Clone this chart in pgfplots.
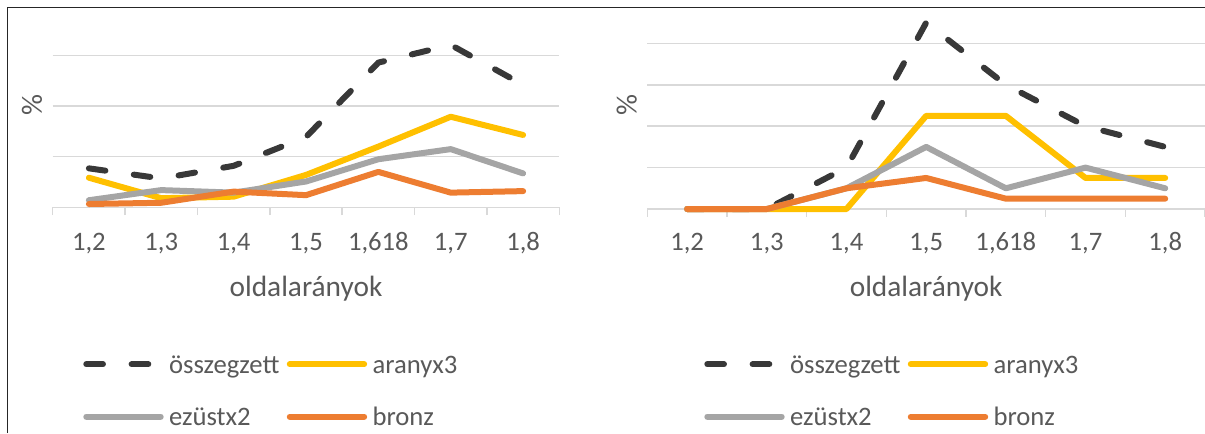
\documentclass[border=0pt]{standalone}
\usepackage{fontspec}
\setmainfont{Carlito}
\usepackage{pgfplots}
\pgfplotsset{compat=1.18}

\definecolor{oszc}{HTML}{383838}
\definecolor{aranyc}{HTML}{FFC000}
\definecolor{ezustc}{HTML}{A5A5A5}
\definecolor{bronzc}{HTML}{ED7D31}
\definecolor{gridc}{HTML}{D9D9D9}
\definecolor{txtc}{HTML}{595959}
\definecolor{framec}{HTML}{262626}

\pgfplotsset{
  panel/.style={
    scale only axis,
    anchor=south west,
    xmin=-0.5, xmax=6.5, ymin=0,
    clip=false,
    axis x line=bottom, axis y line=left,
    axis line style={-},
    x axis line style={draw=gridc, line width=1.1pt},
    y axis line style={draw=none},
    xtick={0,...,6},
    xticklabels={{1,2},{1,3},{1,4},{1,5},{1,618},{1,7},{1,8}},
    major tick length=0pt,
    minor xtick={-0.5,0.5,...,6.5},
    minor tick length=5.8pt,
    minor x tick style={draw=gridc, line width=1.1pt},
    tick align=outside,
    ytick style={draw=none},
    yticklabels={},
    ymajorgrids,
    grid style={draw=gridc, line width=1.1pt},
    xticklabel style={anchor=base, font=\fontsize{20}{24}\selectfont, text=txtc},
    xlabel={oldalarányok},
    ylabel={\%},
    label style={font=\fontsize{22}{26}\selectfont, text=txtc},
    xlabel style={anchor=base},
    ylabel style={anchor=center},
    legend columns=2,
    legend cell align=left,
    legend image code/.code={\draw[##1] (0pt,0pt) -- (55.8pt,0pt);},
    legend style={draw=none, fill=none, inner sep=0pt, outer sep=0pt,
      anchor=north west, font=\fontsize{20}{24}\selectfont, text=txtc,
      column sep=4pt,
      nodes={inner sep=0pt, text height=17pt, text depth=3.5pt},
      /tikz/every even column/.append style={column sep=5.5pt},
      row sep=18.8pt},
    every axis plot/.append style={line width=4.5pt, line cap=round, line join=round},
  },
  sumline/.style={oszc, dash pattern=on 12.5pt off 21.5pt},
}

\begin{document}
\begin{tikzpicture}[x=0.75pt, y=0.75pt]
\useasboundingbox (0,0) rectangle (1205,433);

% first panel
\begin{axis}[panel,
  at={(39.525pt,169.275pt)}, width=379.95pt, height=150pt,
  ymax=3.953, ytick={0,1,2,3},
  xticklabel style={yshift=-32.55pt},
  xlabel style={at={(axis description cs:0.5,-0.447)}},
  ylabel style={at={(axis description cs:-0.0407,0.509)}},
  legend style={at={(axis description cs:0.0604,-0.7165)}},
]
\addplot[sumline] coordinates {(0,0.77) (1,0.57) (2,0.82) (3,1.39) (4,2.86) (5,3.21) (6,2.42)};
\addlegendentry{összegzett}
\addplot[aranyc] coordinates {(0,0.585) (1,0.18) (2,0.21) (3,0.64) (4,1.20) (5,1.79) (6,1.43)};
\addlegendentry{aranyx3}
\addplot[ezustc] coordinates {(0,0.14) (1,0.34) (2,0.29) (3,0.51) (4,0.95) (5,1.15) (6,0.67)};
\addlegendentry{ezüstx2}
\addplot[bronzc] coordinates {(0,0.065) (1,0.09) (2,0.31) (3,0.24) (4,0.70) (5,0.29) (6,0.32)};
\addlegendentry{bronz}
\end{axis}

% second panel
\begin{axis}[panel,
  at={(485.475pt,168pt)}, width=418.3pt, height=151.3pt,
  ymax=19.49, ytick={0,4,8,12,16},
  xticklabel style={yshift=-31.3pt},
  xlabel style={at={(axis description cs:0.5,-0.4348)}},
  ylabel style={at={(axis description cs:-0.0369,0.513)}},
  legend style={at={(axis description cs:0.1022,-0.702)}},
]
\addplot[sumline] coordinates {(0,0) (1,0) (2,4) (3,18) (4,12) (5,8) (6,6)};
\addlegendentry{összegzett}
\addplot[aranyc] coordinates {(0,0) (1,0) (2,0) (3,9) (4,9) (5,3) (6,3)};
\addlegendentry{aranyx3}
\addplot[ezustc] coordinates {(0,0) (1,0) (2,2) (3,6) (4,2) (5,4) (6,2)};
\addlegendentry{ezüstx2}
\addplot[bronzc] coordinates {(0,0) (1,0) (2,2) (3,3) (4,1) (5,1) (6,1)};
\addlegendentry{bronz}
\end{axis}

% page frame
\draw[line width=1pt, framec] (7.3,0) -- (7.3,425.7) -- (1205,425.7);
\end{tikzpicture}
\end{document}
